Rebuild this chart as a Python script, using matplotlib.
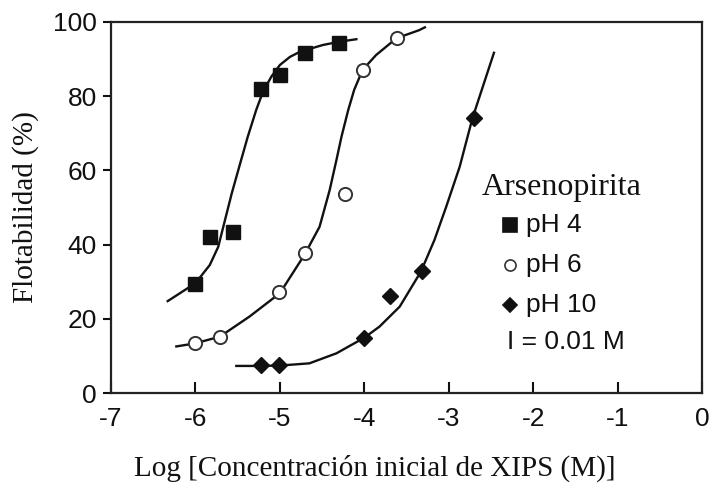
import matplotlib
matplotlib.use("Agg")
import matplotlib.pyplot as plt

plt.rcParams['axes.unicode_minus'] = False

# measured points
ph4_x = [-6.0, -5.83, -5.55, -5.22, -5.0, -4.7, -4.3]
ph4_y = [29.5, 42.0, 43.5, 82.0, 85.7, 91.7, 94.4]
ph6_x = [-6.0, -5.71, -5.01, -4.7, -4.23, -4.01, -3.61]
ph6_y = [13.4, 15.2, 27.3, 37.7, 53.6, 87.1, 95.6]
ph10_x = [-5.22, -5.01, -4.0, -3.69, -3.32, -2.7]
ph10_y = [7.5, 7.5, 14.9, 26.1, 32.9, 74.0]

# fitted curves
fit4_x = [-6.34, -6.0, -5.83, -5.73, -5.65, -5.57, -5.47, -5.38, -5.28, -5.2, -5.1,
          -5.0, -4.88, -4.76, -4.49, -4.29, -4.08]
fit4_y = [24.6, 29.6, 34.5, 39.4, 46.6, 53.8, 61.9, 69.1, 76.3, 81.2, 85.3,
          88.4, 90.6, 92.0, 93.8, 94.7, 95.4]
fit6_x = [-6.24, -6.0, -5.71, -5.36, -5.0, -4.71, -4.53, -4.41, -4.33, -4.27, -4.19,
          -4.12, -4.02, -3.86, -3.62, -3.35, -3.27]
fit6_y = [12.5, 13.4, 15.2, 20.6, 26.9, 37.2, 44.8, 54.7, 62.8, 69.1, 76.3,
          81.7, 87.1, 91.1, 95.6, 97.8, 98.7]
fit10_x = [-5.53, -5.24, -5.0, -4.65, -4.33, -4.0, -3.82, -3.58, -3.33, -3.17, -3.03,
           -2.87, -2.72, -2.46]
fit10_y = [7.3, 7.3, 7.4, 8.0, 10.7, 14.9, 17.9, 23.3, 32.7, 41.2, 50.2,
           61.0, 74.0, 92.0]

xticks = [-7, -6, -5, -4, -3, -2, -1, 0]
yticks = [0, 20, 40, 60, 80, 100]

serif = 'Liberation Serif'
sans = 'Liberation Sans'
ink = '#111111'

fig = plt.figure(figsize=(7.12, 4.83), dpi=100)
ax = fig.add_axes([0.1559, 0.1863, 0.8301, 0.7682])

lw = 1.7
for fx, fy in [(fit4_x, fit4_y), (fit6_x, fit6_y), (fit10_x, fit10_y)]:
    ax.plot(fx, fy, color=ink, lw=lw, zorder=2, solid_joinstyle='round',
            solid_capstyle='butt')

ax.plot(ph4_x, ph4_y, 's', ms=10.5, color=ink, mec=ink, ls='none', zorder=3)
ax.plot(ph6_x, ph6_y, 'o', ms=9.5, mfc='white', mec='#333333', mew=1.4, ls='none', zorder=3)
ax.plot(ph10_x, ph10_y, 'D', ms=8.5, color=ink, mec=ink, ls='none', zorder=3)

ax.set_xlim(-7, 0)
ax.set_ylim(0, 100)
ax.set_xticks(xticks)
ax.set_yticks(yticks)
ax.tick_params(axis='x', direction='in', length=8, width=1.5, pad=10,
               labelsize=19, colors=ink)
ax.tick_params(axis='y', direction='out', length=6, width=1.5, pad=4,
               labelsize=19, colors=ink)
for lab in ax.get_xticklabels() + ax.get_yticklabels():
    lab.set_fontfamily(sans)
for sp in ax.spines.values():
    sp.set_linewidth(1.6)
    sp.set_color('#222222')

ax.set_xlabel('Log [Concentración inicial de XIPS (M)]', fontfamily=serif,
              fontsize=21, labelpad=17, color=ink)
ax.xaxis.label.set_x(0.447)
ax.set_ylabel('Flotabilidad (%)', fontfamily=serif, fontsize=21,
              labelpad=10, color=ink)

# legend block
ax.text(0.628, 0.553, 'Arsenopirita', transform=ax.transAxes, fontfamily=serif,
        fontsize=23, va='center', ha='left', color=ink, zorder=4)
keys = [('s', ink, ink, 'pH 4', 0.453, 9.5), ('o', 'white', '#333333', 'pH 6', 0.345, 8),
        ('D', ink, ink, 'pH 10', 0.237, 7.5)]
for m, fc, ec, lab, yy, ms in keys:
    ax.plot([0.675], [yy], m, transform=ax.transAxes, ms=ms,
            mfc=fc, mec=ec, mew=1.2, clip_on=False, zorder=4)
    ax.text(0.702, yy, lab, transform=ax.transAxes, fontfamily=sans, fontsize=19,
            va='center', ha='left', color=ink, zorder=4)
ax.text(0.670, 0.137, 'I = 0.01 M', transform=ax.transAxes, fontfamily=sans,
        fontsize=19, va='center', ha='left', color=ink, zorder=4)

fig.savefig('out.png', dpi=100)
